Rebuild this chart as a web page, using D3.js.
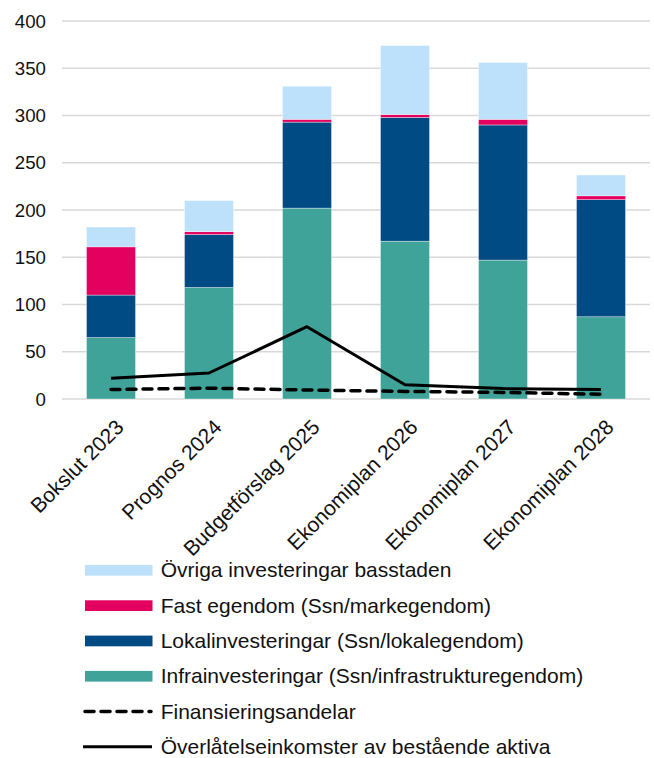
<!DOCTYPE html>
<html>
<head>
<meta charset="utf-8">
<script src="https://cdn.jsdelivr.net/npm/d3@7"></script>
<style>
  html, body { margin: 0; padding: 0; background: #fff; }
  svg { display: block; }
  text { font-family: "Liberation Sans", Arial, sans-serif; fill: #111; }
</style>
</head>
<body>
<svg id="chart" width="654" height="758"></svg>
<script>
const categories = ["Bokslut 2023", "Prognos 2024", "Budgetförslag 2025", "Ekonomiplan 2026", "Ekonomiplan 2027", "Ekonomiplan 2028"];
const infra  = [65, 118, 202, 167, 147, 87];
const lokal  = [45, 56, 91, 131, 143, 124];
const fast   = [51, 3, 3, 3, 6, 4];
const ovriga = [21, 33, 35, 73, 60, 22];
const finansieringsandelar = [10, 11.5, 9.5, 8, 7, 5];
const overlatelse = [22, 27.5, 76.5, 15, 11, 10];
const yTicks = [0, 50, 100, 150, 200, 250, 300, 350, 400];

const seriesNames = [
  "Infrainvesteringar (Ssn/infrastrukturegendom)",
  "Lokalinvesteringar (Ssn/lokalegendom)",
  "Fast egendom (Ssn/markegendom)",
  "Övriga investeringar basstaden"
];
const seriesColors = ["#3fa39a", "#004b84", "#e4005f", "#bee1fb"];
const seriesValues = [infra, lokal, fast, ovriga];

const svg = d3.select("#chart");

const x = d3.scaleBand().domain(categories).range([62, 650]).paddingInner(0.5).paddingOuter(0.25);
const y = d3.scaleLinear().domain([0, 400]).range([399, 21]);

// gridlines
svg.append("g").selectAll("line").data(yTicks).join("line")
  .attr("x1", 62).attr("x2", 650)
  .attr("y1", d => y(d)).attr("y2", d => y(d))
  .attr("stroke", "#d9d9d9").attr("stroke-width", 1.5);

// y labels
svg.append("g").selectAll("text").data(yTicks).join("text")
  .attr("x", 46).attr("y", d => y(d) + 6.7)
  .attr("text-anchor", "end")
  .style("font-size", "18.67px")
  .text(d => d);

// stacked data
const table = categories.map((c, i) => {
  const o = { cat: c };
  seriesNames.forEach((s, k) => o[s] = seriesValues[k][i]);
  return o;
});
const stack = d3.stack().keys(seriesNames)(table);

svg.append("g").selectAll("g").data(stack).join("g")
  .attr("fill", (d, k) => seriesColors[k])
  .selectAll("rect").data(d => d).join("rect")
  .attr("x", d => x(d.data.cat))
  .attr("width", x.bandwidth())
  .attr("y", d => y(d[1]))
  .attr("height", d => y(d[0]) - y(d[1]))
  .attr("stroke", "#ffffff").attr("stroke-width", 0.6).attr("stroke-opacity", 0.6);

const cx = c => x(c) + x.bandwidth() / 2;

// lines
const lineGen = d3.line().x((d, i) => cx(categories[i])).y(d => y(d));
svg.append("path").datum(overlatelse)
  .attr("d", lineGen).attr("fill", "none")
  .attr("stroke", "#000").attr("stroke-width", 3).attr("stroke-linejoin", "round");
svg.append("path").datum(finansieringsandelar)
  .attr("d", lineGen).attr("fill", "none")
  .attr("stroke", "#000").attr("stroke-width", 3.5)
  .attr("stroke-dasharray", "9,7").attr("stroke-linecap", "round");

// x labels
svg.append("g").selectAll("text").data(categories).join("text")
  .attr("transform", d => `translate(${cx(d) + 14},${428.5}) rotate(-45)`)
  .attr("text-anchor", "end")
  .style("font-size", "21px")
  .text(d => d);

// legend
const legendItems = [
  { name: "Övriga investeringar basstaden", type: "rect", color: seriesColors[3] },
  { name: "Fast egendom (Ssn/markegendom)", type: "rect", color: seriesColors[2] },
  { name: "Lokalinvesteringar (Ssn/lokalegendom)", type: "rect", color: seriesColors[1] },
  { name: "Infrainvesteringar (Ssn/infrastrukturegendom)", type: "rect", color: seriesColors[0] },
  { name: "Finansieringsandelar", type: "dash" },
  { name: "Överlåtelseinkomster av bestående aktiva", type: "line" }
];
const lg = svg.append("g").selectAll("g").data(legendItems).join("g")
  .attr("transform", (d, i) => `translate(0,${570.3 + i * 35.3})`);
lg.filter(d => d.type === "rect").append("rect")
  .attr("x", 85).attr("y", -5.3).attr("width", 67.5).attr("height", 10.7)
  .attr("fill", d => d.color);
lg.filter(d => d.type === "dash").append("line")
  .attr("x1", 85).attr("x2", 151).attr("y1", 0).attr("y2", 0)
  .attr("stroke", "#000").attr("stroke-width", 3.5)
  .attr("stroke-dasharray", "9,7").attr("stroke-linecap", "round");
lg.filter(d => d.type === "line").append("line")
  .attr("x1", 83).attr("x2", 152).attr("y1", 0).attr("y2", 0)
  .attr("stroke", "#000").attr("stroke-width", 3);
lg.append("text")
  .attr("x", 160.7).attr("y", 7)
  .style("font-size", "21px")
  .text(d => d.name);
</script>
</body>
</html>
